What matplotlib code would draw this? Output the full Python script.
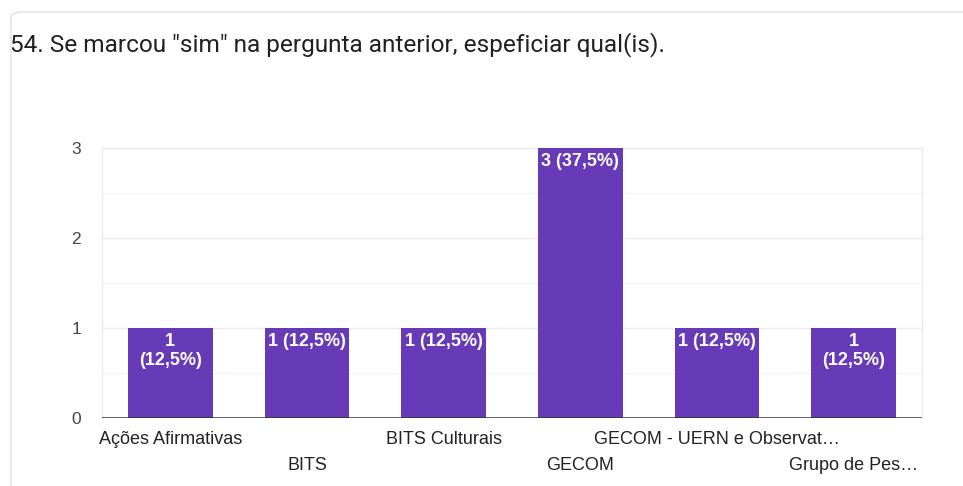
import matplotlib.pyplot as plt
from matplotlib.patches import FancyBboxPatch

categories = ['Ações Afirmativas', 'BITS', 'BITS Culturais', 'GECOM',
              'GECOM - UERN e Observat…', 'Grupo de Pes…']
counts = [1, 1, 1, 3, 1, 1]
bar_labels = ['1\n(12,5%)', '1 (12,5%)', '1 (12,5%)', '3 (37,5%)',
              '1 (12,5%)', '1\n(12,5%)']
y_ticks = [0, 1, 2, 3]
title = '54. Se marcou "sim" na pergunta anterior, espeficiar qual(is).'

plt.rcParams['font.family'] = ['Roboto', 'DejaVu Sans']
chart_font = ['Liberation Sans', 'DejaVu Sans']

W, H = 963, 486
fig = plt.figure(figsize=(W / 100, H / 100), dpi=100)

# card outline
card = FancyBboxPatch((11 / W, -0.05), 1.1, 1 - 12 / H + 0.05,
                      boxstyle='round,pad=0,rounding_size=0.012',
                      transform=fig.transFigure, facecolor='none',
                      edgecolor='#e0e0e0', linewidth=1.0, zorder=-1)
fig.patches.append(card)

fig.text(10 / W, 1 - 45 / H, title, fontsize=17.6, color='#202124',
         va='center', ha='left')

left, right, top, bottom = 102, 922, 148, 418
ax = fig.add_axes([left / W, 1 - bottom / H, (right - left) / W,
                   (bottom - top) / H])
ax.set_facecolor('none')

x = list(range(len(categories)))
bars = ax.bar(x, counts, width=0.62, color='#673ab7', zorder=3)
ax.set_xlim(-0.5, len(categories) - 0.5)
ax.set_ylim(0, 3)

for xi, c, lab in zip(x, counts, bar_labels):
    ax.annotate(lab, (xi, c), xytext=(0, -5), textcoords='offset pixels',
                ha='center', va='top', color='white', fontsize=13,
                fontweight='bold', linespacing=1.15, zorder=4,
                family=chart_font)

# gridlines
for yv in [0.5, 1, 1.5, 2, 2.5, 3]:
    ax.axhline(yv, color='#ebebeb' if yv % 1 == 0 else '#f3f3f3',
               linewidth=1, zorder=1)
ax.axhline(0, color='#333333', linewidth=1.8, zorder=5)

for s in ['left', 'right', 'top']:
    ax.spines[s].set_color('#ebebeb')
    ax.spines[s].set_linewidth(1)
ax.spines['bottom'].set_visible(False)

ax.set_yticks(y_ticks)
ax.set_yticklabels([str(t) for t in y_ticks], fontsize=12.5, color='#444444',
                   family=chart_font)
ax.tick_params(axis='y', length=0, pad=15)

ax.set_xticks(x)
ax.set_xticklabels([])
ax.tick_params(axis='x', length=0)
for xi, cat in zip(x, categories):
    dy = 22 if xi % 2 == 0 else 47
    ax.annotate(cat, (xi, 0), xytext=(0, -dy), textcoords='offset pixels',
                ha='center', va='center', fontsize=13, color='#222222',
                family=chart_font, annotation_clip=False)

fig.savefig('out.png', dpi=100)
